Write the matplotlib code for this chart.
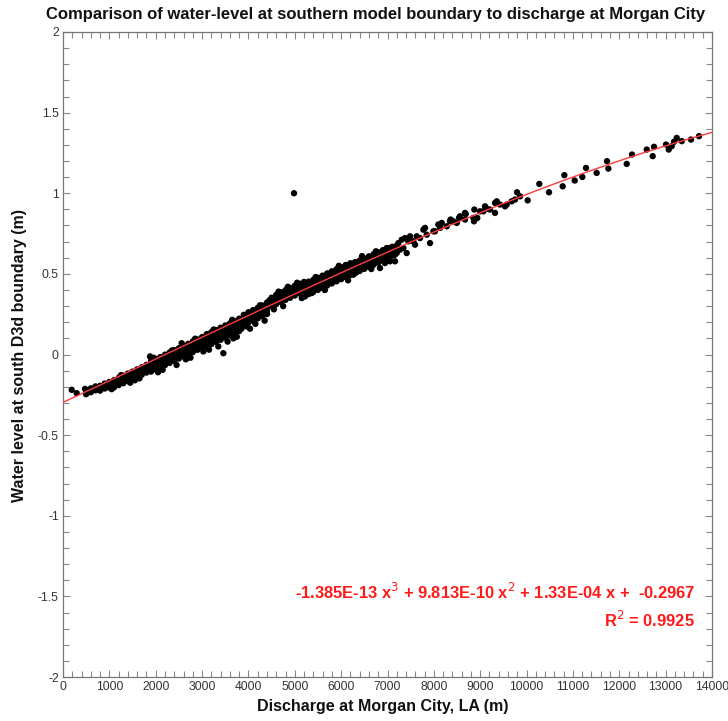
import matplotlib
matplotlib.use("Agg")
import matplotlib.pyplot as plt
from matplotlib.ticker import MultipleLocator
import numpy as np

plt.rcParams['font.family'] = ['Liberation Sans', 'DejaVu Sans']

# ---- data ----
band_x = [500, 600, 700, 800, 900, 1000, 1100, 1200, 1300, 1400, 1500, 1600, 1700, 1800,
          1900, 2000, 2100, 2200, 2300, 2400, 2500, 2600, 2700, 2800, 2900, 3000,
          3100, 3200, 3300, 3400, 3500, 3600, 3700, 3800, 3900, 4000, 4100, 4200, 4300, 4400,
          4500, 4600, 4700, 4800, 4900, 5000, 5100, 5200, 5300, 5400, 5500, 5600, 5700, 5800,
          5900, 6000, 6100, 6200, 6300, 6400, 6500, 6600, 6700, 6800, 6900, 7000, 7100, 7200]
band_top = [-0.222, -0.210, -0.198, -0.194, -0.180, -0.170, -0.159, -0.145, -0.131, -0.118,
            -0.106, -0.092, -0.079, -0.064, -0.040, -0.027, -0.016, -0.001, 0.012, 0.027,
            0.039, 0.054, 0.066, 0.081, 0.093, 0.108, 0.126, 0.139, 0.152, 0.166, 0.180,
            0.193, 0.207, 0.222, 0.246, 0.262, 0.275, 0.289, 0.304, 0.322, 0.352, 0.370,
            0.386, 0.399, 0.412, 0.426, 0.439, 0.450, 0.452, 0.463, 0.476, 0.489, 0.503,
            0.516, 0.529, 0.542, 0.555, 0.566, 0.573, 0.583, 0.596, 0.609, 0.622, 0.634,
            0.647, 0.660, 0.668, 0.675]
band_up = [-0.232, -0.220, -0.208, -0.204, -0.191, -0.182, -0.174, -0.160, -0.147, -0.134,
           -0.121, -0.107, -0.094, -0.080, -0.061, -0.048, -0.035, -0.021, -0.008, 0.006,
           0.019, 0.033, 0.046, 0.060, 0.073, 0.087, 0.101, 0.114, 0.128, 0.141, 0.155,
           0.168, 0.182, 0.195, 0.224, 0.237, 0.250, 0.264, 0.277, 0.294, 0.330, 0.347,
           0.361, 0.374, 0.387, 0.401, 0.414, 0.425, 0.425, 0.438, 0.451, 0.464, 0.478,
           0.491, 0.504, 0.517, 0.530, 0.543, 0.546, 0.558, 0.571, 0.584, 0.597, 0.609,
           0.622, 0.635, 0.648, 0.660]
band_lo = [-0.242, -0.230, -0.218, -0.214, -0.201, -0.196, -0.189, -0.176, -0.162, -0.149,
           -0.136, -0.122, -0.109, -0.096, -0.082, -0.068, -0.055, -0.041, -0.028, -0.014,
           -0.001, 0.013, 0.026, 0.040, 0.053, 0.067, 0.076, 0.089, 0.103, 0.116, 0.130,
           0.143, 0.157, 0.170, 0.204, 0.217, 0.230, 0.244, 0.257, 0.271, 0.309, 0.322,
           0.336, 0.349, 0.362, 0.376, 0.389, 0.402, 0.400, 0.413, 0.426, 0.439, 0.453,
           0.466, 0.479, 0.492, 0.505, 0.518, 0.526, 0.538, 0.551, 0.564, 0.577, 0.589,
           0.602, 0.615, 0.628, 0.645]
band_bot = [-0.246, -0.234, -0.222, -0.224, -0.211, -0.205, -0.204, -0.190, -0.178, -0.165,
            -0.151, -0.138, -0.125, -0.112, -0.106, -0.093, -0.080, -0.066, -0.052, -0.039,
            -0.025, -0.012, 0.002, 0.015, 0.029, 0.042, 0.051, 0.064, 0.078, 0.091, 0.105,
            0.118, 0.132, 0.145, 0.184, 0.197, 0.210, 0.224, 0.237, 0.251, 0.299, 0.312,
            0.326, 0.339, 0.352, 0.366, 0.379, 0.392, 0.375, 0.388, 0.401, 0.414, 0.428,
            0.441, 0.454, 0.467, 0.480, 0.493, 0.506, 0.518, 0.531, 0.544, 0.557, 0.569,
            0.582, 0.595, 0.613, 0.630]

# points on the ragged edges of the dense band
edge_x = [1250, 1450, 1650, 2150, 2350, 2450, 2750, 2850, 3150, 3250, 3350, 3550, 3650,
          3750, 4150, 4250, 4350, 4450, 4650, 4750, 4850, 5050, 5150, 5450, 5650, 5950,
          6150, 6450, 6650, 6750, 1050, 1550, 2050, 2650, 3850, 4550]
edge_y = [-0.128, -0.175, -0.148, -0.095, 0.025, -0.065, -0.020, 0.098, 0.030, 0.155,
          0.050, 0.080, 0.215, 0.110, 0.190, 0.305, 0.210, 0.335, 0.390, 0.300, 0.420,
          0.445, 0.350, 0.480, 0.400, 0.550, 0.460, 0.610, 0.530, 0.640, -0.215, -0.160,
          -0.110, -0.030, 0.160, 0.280]

extra_x = [188, 295, 475, 1877, 1950, 2560, 2668, 3027, 3459, 3675, 3962, 4034, 4983,
           5220, 5364, 5831, 6263, 6330, 6838, 6910, 6946, 6983, 7054, 7126, 7162, 7162,
           7234, 7270, 7306, 7342, 7378, 7414, 7450, 7486, 7557, 7594, 7630, 7702, 7774,
           7809, 7846, 7917, 7990, 8025, 8096, 8133, 8170, 8278, 8348, 8363, 8420, 8493,
           8543, 8564, 8672, 8672, 8687, 8851, 8866, 8873, 8937, 8996, 9068, 9104, 9140,
           9211, 9319, 9319, 9356, 9427, 9535, 9571, 9679, 9751, 9794, 9859, 10024, 10275,
           10484, 10779, 10815, 11038, 11203, 11282, 11512, 11735, 11764, 12160, 12274,
           12592, 12721, 12749, 13008, 13066, 13131, 13181, 13239, 13347, 13547, 13720]
extra_y = [-0.219, -0.240, -0.213, -0.012, -0.020, 0.070, -0.023, 0.019, 0.008, 0.100,
           0.174, 0.160, 1.000, 0.360, 0.381, 0.495, 0.495, 0.510, 0.536, 0.619, 0.567,
           0.660, 0.578, 0.660, 0.619, 0.578, 0.691, 0.650, 0.712, 0.660, 0.722, 0.629,
           0.702, 0.733, 0.702, 0.681, 0.733, 0.722, 0.774, 0.785, 0.743, 0.691, 0.764,
           0.764, 0.806, 0.785, 0.816, 0.795, 0.826, 0.837, 0.826, 0.816, 0.847, 0.857,
           0.878, 0.837, 0.871, 0.847, 0.826, 0.899, 0.847, 0.888, 0.888, 0.919, 0.905,
           0.899, 0.940, 0.878, 0.950, 0.930, 0.919, 0.930, 0.950, 0.961, 1.006, 0.981,
           0.956, 1.058, 1.006, 1.043, 1.112, 1.079, 1.101, 1.157, 1.126, 1.199, 1.153,
           1.182, 1.240, 1.271, 1.230, 1.288, 1.302, 1.271, 1.292, 1.319, 1.343, 1.323,
           1.333, 1.354]

# polynomial fit shown on the chart (cubic coefficients, highest power first)
fit_coef = [-1.385e-13, 9.813e-10, 1.33e-04, -0.2967]
fit_text = "-1.385E-13 x$^{3}$ + 9.813E-10 x$^{2}$ + 1.33E-04 x +  -0.2967"
r2_text = "R$^{2}$ = 0.9925"

title = "Comparison of water-level at southern model boundary to discharge at Morgan City"
xlabel = "Discharge at Morgan City, LA (m)"
ylabel = "Water level at south D3d boundary (m)"
x_ticks = [0, 1000, 2000, 3000, 4000, 5000, 6000, 7000, 8000, 9000, 10000, 11000, 12000, 13000, 14000]
y_ticks = [-2, -1.5, -1, -0.5, 0, 0.5, 1, 1.5, 2]
y_ticklabels = ["-2", "-1.5", "-1", "-0.5", "0", "0.5", "1", "1.5", "2"]

# ---- figure ----
fig = plt.figure(figsize=(7.28, 7.21), dpi=100)
ax = fig.add_axes([63/728, 1-677/721, (712-63)/728, (677-32)/721])

msize = 21
for ys in (band_top, band_up, band_lo, band_bot):
    ax.scatter(band_x, ys, s=msize, c='black', edgecolors='none', zorder=2)
ax.scatter(edge_x, edge_y, s=msize, c='black', edgecolors='none', zorder=2)
ax.scatter(extra_x, extra_y, s=msize, c='black', edgecolors='none', zorder=2)

xf = np.linspace(0, 14000, 400)
ax.plot(xf, np.polyval(fit_coef, xf), color='#ff3b3b', lw=1.0, zorder=3)

ax.set_xlim(0, 14000)
ax.set_ylim(-2, 2)
ax.set_xticks(x_ticks)
ax.set_xticklabels([str(t) for t in x_ticks])
ax.set_yticks(y_ticks)
ax.set_yticklabels(y_ticklabels)
ax.xaxis.set_minor_locator(MultipleLocator(200))
ax.yaxis.set_minor_locator(MultipleLocator(0.1))
ax.tick_params(which='both', direction='in', top=True, right=True, color='#888888',
               labelcolor='#333333', labelsize=8.8, width=0.8)
ax.tick_params(which='major', length=5, pad=3)
ax.tick_params(which='minor', length=4)
for sp in ax.spines.values():
    sp.set_color('#777777')
    sp.set_linewidth(0.9)

fig.text(376/728, 1 - 14/721, title, ha='center', va='center',
         fontsize=12, fontweight='bold', color='#111111')
fig.text(383/728, 1 - 706/721, xlabel, ha='center', va='center', fontsize=11.5,
         fontweight='bold', color='#111111')
fig.text(20/728, 1 - 355/721, ylabel, ha='center', va='center', rotation=90,
         fontsize=11.5, fontweight='bold', color='#111111')

ax.text(695/728, 1 - 592/721, fit_text, transform=fig.transFigure, ha='right', va='center',
        fontsize=11.9, fontweight='bold', color='#ff1a1a')
ax.text(695/728, 1 - 620/721, r2_text, transform=fig.transFigure, ha='right', va='center',
        fontsize=11.9, fontweight='bold', color='#ff1a1a')

fig.savefig("out.png", dpi=100)
